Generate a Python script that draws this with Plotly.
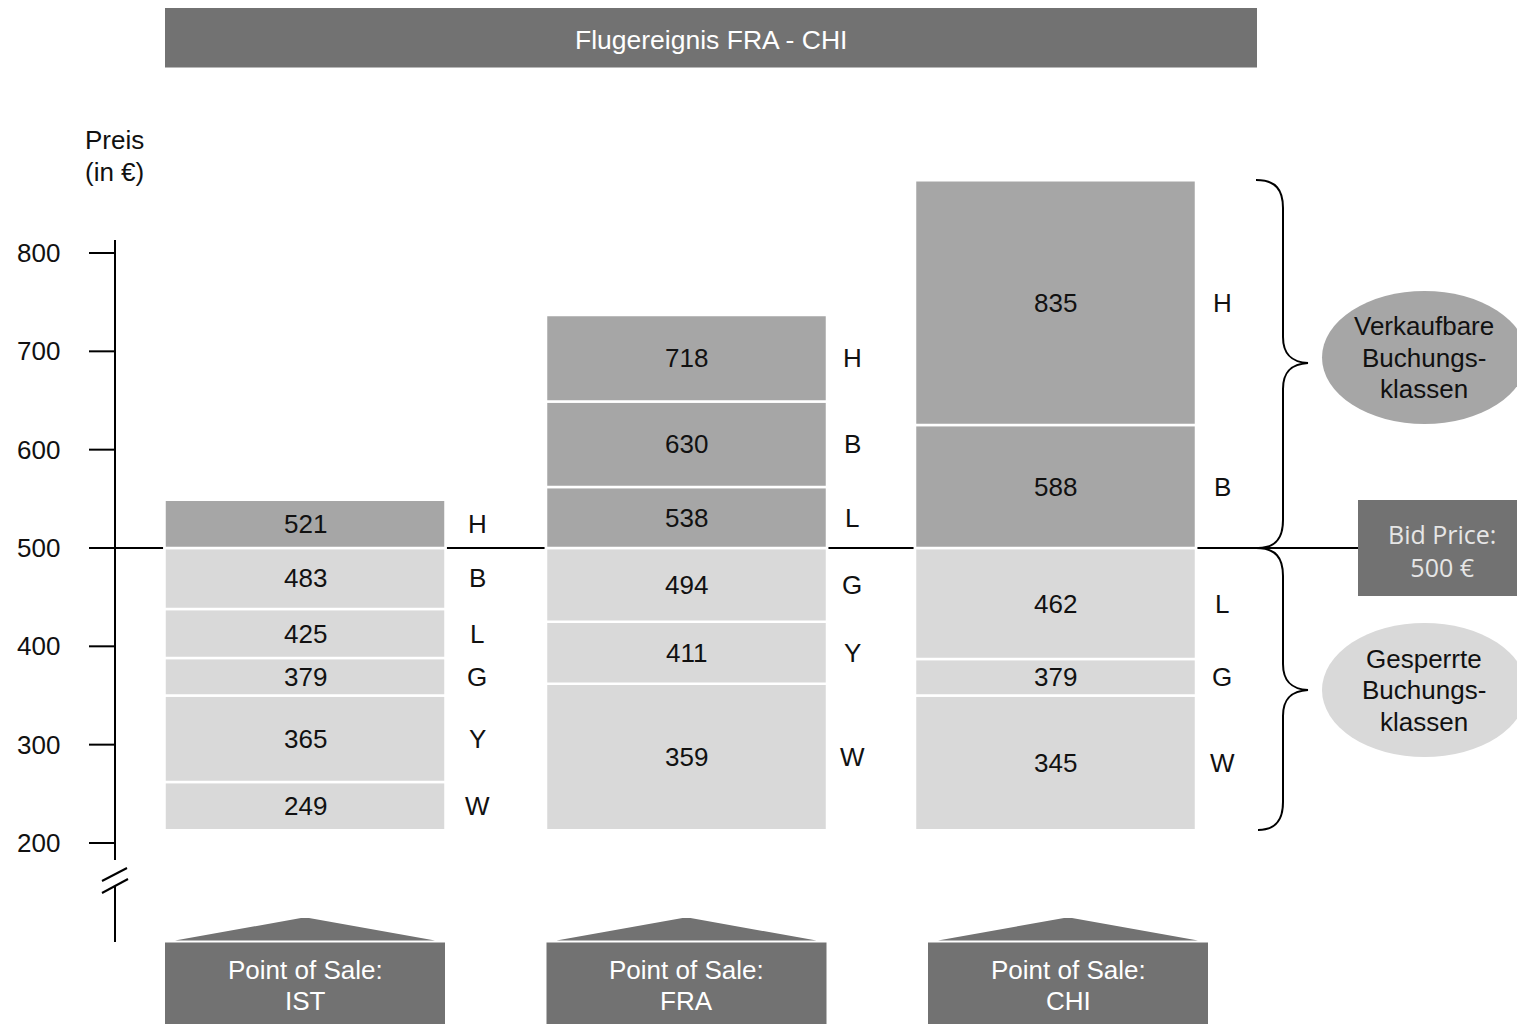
import plotly.graph_objects as go

# ---- data -------------------------------------------------------------
title_text = "Flugereignis FRA - CHI"
pos_names = ["IST", "FRA", "CHI"]
bid_price = 500
y_ticks = [200, 300, 400, 500, 600, 700, 800]

# booking classes per point of sale (bottom -> top), fares, and band edges
ist_classes = ["W", "Y", "G", "L", "B", "H"]
ist_prices = [249, 365, 379, 425, 483, 521]
ist_bounds = [213, 262, 350, 388, 438, 500, 549]

fra_classes = ["W", "Y", "G", "L", "B", "H"]
fra_prices = [359, 411, 494, 538, 630, 718]
fra_bounds = [213, 362, 425, 500, 562, 649, 737]

chi_classes = ["W", "G", "L", "B", "H"]
chi_prices = [345, 379, 462, 588, 835]
chi_bounds = [213, 350, 387, 500, 625, 874]

# ---- layout constants -------------------------------------------------
W, H = 1517, 1024
Y_TOP, Y_BOT = 1057.3, 15.9          # price range shown top/bottom
BAR_X = [305, 686.5, 1055.5]
BAR_W = 281
LETTER_X = [477, 852, 1222]
POS_X = [305, 686.5, 1068]
POS_W = 280

DARK = "#a6a6a6"
LIGHT = "#d9d9d9"
BOX = "#727272"
FONT = "Liberation Sans, Arial, sans-serif"
BID_FONT = "Open Sans, DejaVu Sans, sans-serif"
FS = 26


def pyv(p):
    """pixel row -> price units"""
    return Y_TOP - p * (Y_TOP - Y_BOT) / H


def pp(p):
    """pixel row -> paper fraction"""
    return 1 - p / H


def label(x, y, text, yref="y", color="#111", size=FS, family=FONT, xanchor="center"):
    return dict(x=x, y=y, xref="x", yref=yref, text=text, showarrow=False,
                xanchor=xanchor, yanchor="middle",
                font=dict(family=family, size=size, color=color))


fig = go.Figure()
annotations = []
shapes = []

columns = [
    (ist_bounds, ist_classes, ist_prices),
    (fra_bounds, fra_classes, fra_prices),
    (chi_bounds, chi_classes, chi_prices),
]

for i, (bounds, classes, prices) in enumerate(columns):
    lows = bounds[:-1]
    highs = bounds[1:]
    fig.add_trace(go.Bar(
        x=[BAR_X[i]] * len(lows),
        base=lows,
        y=[h - l for l, h in zip(lows, highs)],
        width=BAR_W,
        marker=dict(color=[DARK if l >= bid_price else LIGHT for l in lows],
                    line=dict(color="white", width=2.5)),
        hoverinfo="skip",
        showlegend=False,
    ))
    for l, h, c, v in zip(lows, highs, classes, prices):
        mid = (l + h) / 2
        annotations.append(label(BAR_X[i], mid, str(v)))
        annotations.append(label(LETTER_X[i], mid, c))

# bid price line (behind the bars)
shapes.append(dict(type="line", xref="x", yref="y", x0=115, x1=1358, y0=bid_price, y1=bid_price,
                   line=dict(color="black", width=2), layer="below"))

# price axis with a break near the bottom
ax = dict(color="black", width=2)
shapes.append(dict(type="line", xref="x", yref="y", x0=115, x1=115, y0=pyv(240), y1=pyv(860), line=ax))
shapes.append(dict(type="line", xref="x", yref="y", x0=115, x1=115, y0=pyv(886), y1=pyv(942), line=ax))
shapes.append(dict(type="line", xref="x", yref="y", x0=102, x1=127, y0=pyv(881), y1=pyv(868), line=ax))
shapes.append(dict(type="line", xref="x", yref="y", x0=102, x1=128, y0=pyv(893), y1=pyv(879), line=ax))
for t in y_ticks:
    shapes.append(dict(type="line", xref="x", yref="y", x0=89, x1=115, y0=t, y1=t, line=ax))
    annotations.append(label(62, t, str(t), xanchor="right"))

annotations.append(label(114, pp(140), "Preis", yref="paper"))
annotations.append(label(114, pp(172), "(in €)", yref="paper"))

# title banner
shapes.append(dict(type="rect", xref="x", yref="paper", x0=165, x1=1257, y0=pp(67.5), y1=pp(8),
                   fillcolor=BOX, line=dict(width=0)))
annotations.append(label(711, pp(40), title_text, yref="paper", color="white", size=26.5))

# point-of-sale boxes with a roof
for i, name in enumerate(pos_names):
    cx = POS_X[i]
    x0, x1 = cx - POS_W / 2, cx + POS_W / 2
    shapes.append(dict(type="rect", xref="x", yref="paper", x0=x0, x1=x1, y0=pp(1030), y1=pp(942.5),
                       fillcolor=BOX, line=dict(width=0)))
    shapes.append(dict(type="path", xref="x", yref="paper",
                       path=f"M {x0 + 10},{pp(940.5)} L {cx - 4},{pp(918)} L {cx + 4},{pp(918)} "
                            f"L {x1 - 10},{pp(940.5)} Z",
                       fillcolor=BOX, line=dict(width=0)))
    annotations.append(label(cx, pp(970), "Point of Sale:", yref="paper", color="white"))
    annotations.append(label(cx, pp(1001), name, yref="paper", color="white"))

# bid price box
shapes.append(dict(type="rect", xref="x", yref="paper", x0=1358, x1=1520, y0=pp(596), y1=pp(500),
                   fillcolor=BOX, line=dict(width=0)))
annotations.append(label(1442, pp(550), f"Bid Price:<br>{bid_price} €", yref="paper",
                         color="#e6e6e6", size=25, family=BID_FONT))


# curly braces grouping sellable / closed classes
def brace(top, bottom, tip):
    return (f"M 1256,{pp(top)} C 1276,{pp(top)} 1283,{pp(top + 10)} 1283,{pp(top + 28)} "
            f"L 1283,{pp(tip - 26)} C 1283,{pp(tip - 8)} 1292,{pp(tip - 1)} 1308,{pp(tip)} "
            f"C 1292,{pp(tip + 1)} 1283,{pp(tip + 8)} 1283,{pp(tip + 26)} "
            f"L 1283,{pp(bottom - 28)} C 1283,{pp(bottom - 10)} 1276,{pp(bottom)} 1258,{pp(bottom)}")


shapes.append(dict(type="path", xref="x", yref="paper", path=brace(180, 548, 363),
                   line=dict(color="black", width=2)))
shapes.append(dict(type="path", xref="x", yref="paper", path=brace(548, 830, 690),
                   line=dict(color="black", width=2)))

# group ellipses
for (y0, y1, col, lines) in [
    (291, 424, DARK, ["Verkaufbare", "Buchungs-", "klassen"]),
    (623, 757, LIGHT, ["Gesperrte", "Buchungs-", "klassen"]),
]:
    shapes.append(dict(type="circle", xref="x", yref="paper", x0=1322, x1=1527, y0=pp(y1), y1=pp(y0),
                       fillcolor=col, line=dict(width=0)))
    cy = (y0 + y1) / 2
    for k, txt in enumerate(lines):
        annotations.append(label(1424, pp(cy + (k - 1) * 31.5), txt, yref="paper"))

fig.update_layout(
    width=W, height=H, autosize=False,
    margin=dict(l=0, r=0, t=0, b=0),
    paper_bgcolor="white", plot_bgcolor="white",
    barmode="overlay",
    xaxis=dict(range=[0, W], visible=False, fixedrange=True),
    yaxis=dict(range=[Y_BOT, Y_TOP], visible=False, fixedrange=True),
    shapes=shapes,
    annotations=annotations,
    showlegend=False,
)

fig.write_html("out.html", config={"displayModeBar": False})
